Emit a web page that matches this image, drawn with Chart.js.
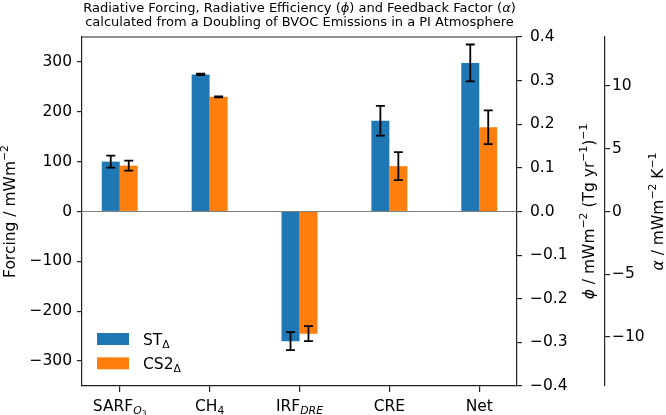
<!DOCTYPE html>
<html>
<head>
<meta charset="utf-8">
<script src="https://cdn.jsdelivr.net/npm/chart.js@4.4.1/dist/chart.umd.min.js"></script>
<style>
  html, body { margin: 0; padding: 0; background: #fff; }
  #contenedor { width: 666px; height: 415px; }
</style>
</head>
<body>
<div id="contenedor"><canvas id="grafico"></canvas></div>
<script>
// posiciones de las categorias en el eje x
const categorias = [0, 1, 2, 3, 4];
const etiquetasX = [
  [["SARF", ""], ["O", "subi"], ["3", "subsub"]],
  [["CH", ""], ["4", "sub"]],
  [["IRF", ""], ["DRE", "subi"]],
  [["CRE", ""]],
  [["Net", ""]]
];

const valoresST = [100, 275, -260, 182, 298];
const erroresST = [12, 1.5, 18, 30, 37];
const valoresCS2 = [92, 230, -245, 91, 169];
const erroresCS2 = [10, 0.8, 15, 28, 34];

const ticksForzamiento = [-300, -200, -100, 0, 100, 200, 300];
const ticksPhi = [-0.4, -0.3, -0.2, -0.1, 0, 0.1, 0.2, 0.3, 0.4];
const ticksAlfa = [-10, -5, 0, 5, 10];

const leyendaST = [["ST", ""], ["Δ", "sub"]];
const leyendaCS2 = [["CS2", ""], ["Δ", "sub"]];

const tituloLinea1 = [["Radiative Forcing, Radiative Efficiency (", ""], ["ϕ", "i"], [") and Feedback Factor (", ""], ["α", "i"], [")", ""]];
const tituloLinea2 = [["calculated from a Doubling of BVOC Emissions in a PI Atmosphere", ""]];
const tituloY = [["Forcing / mWm", ""], ["−2", "sup"]];
const tituloPhi = [["ϕ", "i"], [" / mWm", ""], ["−2", "sup"], [" (Tg yr", ""], ["−1", "sup"], [")", ""], ["−1", "sup"]];
const tituloAlfa = [["α", "i"], [" / mWm", ""], ["−2", "sup"], [" K", ""], ["−1", "sup"]];

const FUENTE = "'DejaVu Sans'";
const TAM = 15.5;

function estiloTrozo(tipo, tam) {
  switch (tipo) {
    case "i": return { font: `italic ${tam}px ${FUENTE}`, dy: 0 };
    case "sup": return { font: `${tam * 0.7}px ${FUENTE}`, dy: -tam * 0.42 };
    case "sub": return { font: `${tam * 0.7}px ${FUENTE}`, dy: tam * 0.2 };
    case "subi": return { font: `italic ${tam * 0.7}px ${FUENTE}`, dy: tam * 0.2 };
    case "subsub": return { font: `${tam * 0.5}px ${FUENTE}`, dy: tam * 0.34 };
    default: return { font: `${tam}px ${FUENTE}`, dy: 0 };
  }
}

function anchoTexto(ctx, trozos, tam) {
  let w = 0;
  trozos.forEach(([t, tipo]) => {
    ctx.font = estiloTrozo(tipo, tam).font;
    w += ctx.measureText(t).width;
  });
  return w;
}

function dibujarTexto(ctx, trozos, x, y, tam, alinear) {
  let cx = alinear === "center" ? x - anchoTexto(ctx, trozos, tam) / 2 : x;
  ctx.textAlign = "left";
  ctx.textBaseline = "alphabetic";
  ctx.fillStyle = "#000";
  trozos.forEach(([t, tipo]) => {
    const e = estiloTrozo(tipo, tam);
    ctx.font = e.font;
    ctx.fillText(t, cx, y + e.dy);
    cx += ctx.measureText(t).width;
  });
}

function dibujarVertical(ctx, trozos, x, y, tam) {
  ctx.save();
  ctx.translate(x, y);
  ctx.rotate(-Math.PI / 2);
  dibujarTexto(ctx, trozos, 0, 0, tam, "center");
  ctx.restore();
}

const extras = {
  id: "extras",
  beforeDatasetsDraw(chart) {
    const { ctx, chartArea } = chart;
    const y0 = chart.scales.y.getPixelForValue(0);
    ctx.save();
    ctx.strokeStyle = "#808080";
    ctx.lineWidth = 1.2;
    ctx.beginPath();
    ctx.moveTo(chartArea.left, y0);
    ctx.lineTo(chartArea.right, y0);
    ctx.stroke();
    ctx.restore();
  },
  afterDatasetsDraw(chart) {
    const { ctx } = chart;
    const escalaY = chart.scales.y;
    ctx.save();
    ctx.strokeStyle = "#000";
    ctx.lineWidth = 1.8;
    chart.data.datasets.forEach((ds, d) => {
      const meta = chart.getDatasetMeta(d);
      meta.data.forEach((barra, i) => {
        const v = ds.data[i].y;
        const e = ds.errores[i];
        const yA = escalaY.getPixelForValue(v + e);
        const yB = escalaY.getPixelForValue(v - e);
        ctx.beginPath();
        ctx.moveTo(barra.x, yA); ctx.lineTo(barra.x, yB);
        ctx.moveTo(barra.x - 4.5, yA); ctx.lineTo(barra.x + 4.5, yA);
        ctx.moveTo(barra.x - 4.5, yB); ctx.lineTo(barra.x + 4.5, yB);
        ctx.stroke();
      });
    });
    ctx.restore();
  },
  afterDraw(chart) {
    const { ctx, chartArea } = chart;
    ctx.save();
    // borde superior
    ctx.strokeStyle = "#222";
    ctx.lineWidth = 1.2;
    ctx.beginPath();
    ctx.moveTo(chartArea.left, chartArea.top);
    ctx.lineTo(chartArea.right, chartArea.top);
    ctx.stroke();

    const centroX = (chartArea.left + chartArea.right) / 2;
    const centroY = (chartArea.top + chartArea.bottom) / 2;
    dibujarTexto(ctx, tituloLinea1, centroX, 11.5, 13, "center");
    dibujarTexto(ctx, tituloLinea2, centroX, 26, 13, "center");

    dibujarVertical(ctx, tituloY, chart.scales.y.left + 14.5, centroY, TAM);
    dibujarVertical(ctx, tituloPhi, chart.scales.y1.left + 77, centroY, TAM);
    dibujarVertical(ctx, tituloAlfa, chart.scales.y2.left + 58, centroY, TAM);

    const escalaX = chart.scales.x;
    categorias.forEach((c, i) => {
      dibujarTexto(ctx, etiquetasX[i], escalaX.getPixelForValue(c), chartArea.bottom + 24.5, TAM, "center");
    });

    // leyenda
    chart.data.datasets.forEach((ds, d) => {
      const yc = chartArea.bottom - 47 + d * 24.3;
      ctx.fillStyle = ds.backgroundColor;
      ctx.fillRect(chartArea.left + 15, yc - 6, 32, 12);
      dibujarTexto(ctx, ds.leyenda, chartArea.left + 61, yc + 6, TAM, "left");
    });
    ctx.restore();
  }
};

const ejeComun = {
  grid: { drawOnChartArea: false, drawTicks: true, tickLength: 5, color: "#222", lineWidth: 1.2 },
  border: { display: true, color: "#222", width: 1.2 }
};

new Chart(document.getElementById("grafico"), {
  type: "bar",
  data: {
    datasets: [
      {
        label: "ST",
        leyenda: leyendaST,
        errores: erroresST,
        data: categorias.map((c, i) => ({ x: c, y: valoresST[i] })),
        backgroundColor: "#1f77b4",
        categoryPercentage: 0.4,
        barPercentage: 1.0
      },
      {
        label: "CS2",
        leyenda: leyendaCS2,
        errores: erroresCS2,
        data: categorias.map((c, i) => ({ x: c, y: valoresCS2[i] })),
        backgroundColor: "#ff7f0e",
        categoryPercentage: 0.4,
        barPercentage: 1.0
      }
    ]
  },
  options: {
    responsive: true,
    maintainAspectRatio: false,
    animation: false,
    layout: { padding: { top: 37, left: 0, right: 0, bottom: 0 } },
    plugins: { legend: { display: false }, title: { display: false }, tooltip: { enabled: false } },
    scales: {
      x: {
        type: "linear",
        min: -0.42,
        max: 4.42,
        offset: false,
        grid: { ...ejeComun.grid, tickLength: 6, offset: false },
        border: ejeComun.border,
        ticks: { callback: () => "", autoSkip: false },
        afterBuildTicks: s => { s.ticks = categorias.map(v => ({ value: v })); },
        afterFit: s => { s.height = 29; }
      },
      y: {
        position: "left",
        min: -350,
        max: 350,
        ...ejeComun,
        ticks: {
          autoSkip: false, padding: 5, color: "#000",
          font: { family: "DejaVu Sans", size: TAM },
          callback: v => String(v).replace("-", "−")
        },
        afterBuildTicks: s => { s.ticks = ticksForzamiento.map(v => ({ value: v })); },
        afterFit: s => { s.width = 82; }
      },
      y1: {
        position: "right",
        min: -0.4,
        max: 0.4,
        ...ejeComun,
        ticks: {
          autoSkip: false, padding: 8, color: "#000",
          font: { family: "DejaVu Sans", size: TAM },
          callback: v => v.toFixed(1).replace("-", "−")
        },
        afterBuildTicks: s => { s.ticks = ticksPhi.map(v => ({ value: v })); },
        afterFit: s => { s.width = 88; }
      },
      y2: {
        position: "right",
        min: -13.9,
        max: 13.9,
        ...ejeComun,
        ticks: {
          autoSkip: false, padding: 2, color: "#000",
          font: { family: "DejaVu Sans", size: TAM },
          callback: v => String(v).replace("-", "−")
        },
        afterBuildTicks: s => { s.ticks = ticksAlfa.map(v => ({ value: v })); },
        afterFit: s => { s.width = 61; }
      }
    }
  },
  plugins: [extras]
});
</script>
</body>
</html>
